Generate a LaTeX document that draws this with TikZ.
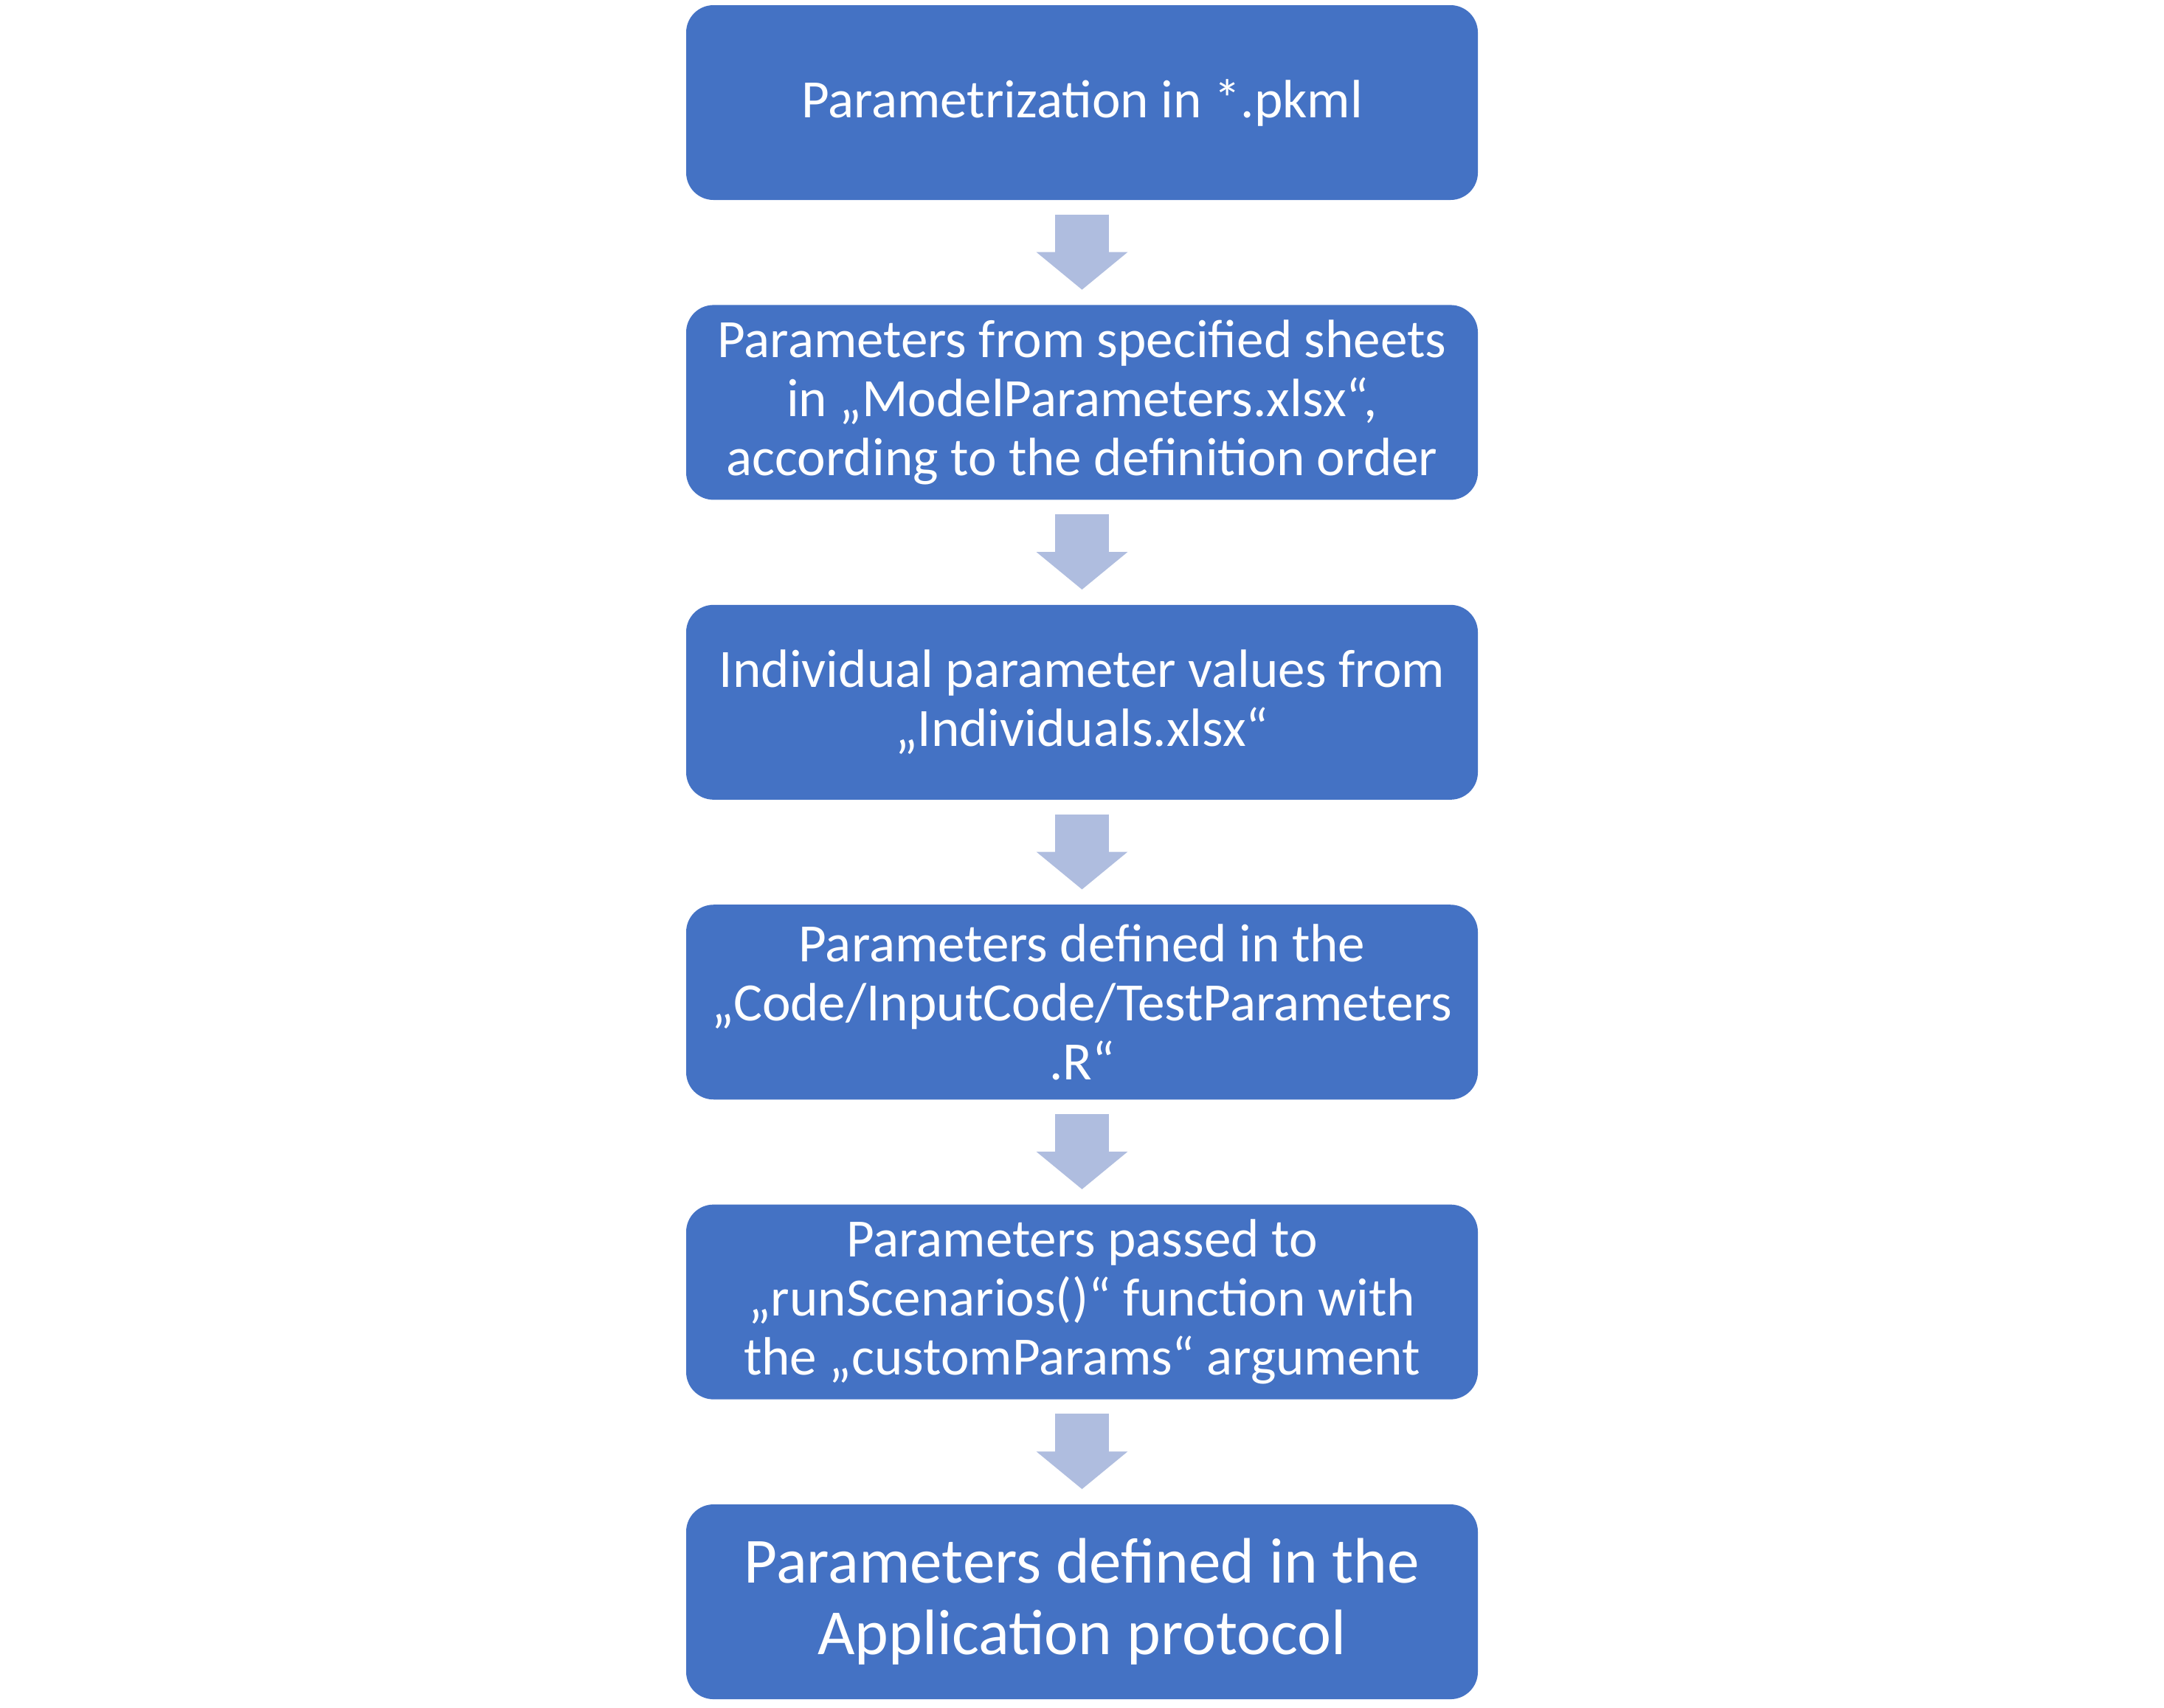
\documentclass[tikz,border=0pt]{standalone}
\usepackage{fontspec}
\setmainfont{Carlito}
\usetikzlibrary{positioning,arrows.meta}
\definecolor{boxblue}{HTML}{4472C4}
\definecolor{arrowblue}{HTML}{AFBDDF}
\tikzset{
  stepbox/.style={rectangle, rounded corners=0.37cm, fill=boxblue, text=white,
    minimum width=10.73cm, minimum height=2.64cm, inner sep=0pt, align=center,
    font=\fontsize{20.8}{22.8}\selectfont},
  flowarrow/.style={arrowblue, line width=0.73cm, shorten <=0.19cm, shorten >=0.2cm,
    -{Triangle[width=1.21cm, length=0.51cm]}}
}
\begin{document}
\begin{tikzpicture}[node distance=1.41cm]
  \useasboundingbox (0,0) rectangle (29.33,-23.14);
  % the six steps
  \node[stepbox] (pkml) at (14.665,-1.39) {Parametrization in *.pkml};
  \node[stepbox, below=of pkml] (sheets) {Parameters from specified sheets\\in „ModelParameters.xlsx“,\\according to the definition order};
  \node[stepbox, below=of sheets] (indiv) {Individual parameter values from\\„Individuals.xlsx“};
  \node[stepbox, below=of indiv] (testpar) {Parameters defined in the\\„Code/InputCode/TestParameters\\.R“};
  \node[stepbox, below=of testpar] (runscen) {Parameters passed to\\„runScenarios()“ function with\\the „customParams“ argument};
  \node[stepbox, below=of runscen, font=\fontsize{24.8}{27.6}\selectfont] (protocol) {Parameters defined in the\\Application protocol};
  % block arrows
  \foreach \a/\b in {pkml/sheets, sheets/indiv, indiv/testpar, testpar/runscen, runscen/protocol}
    \draw[flowarrow] (\a.south) -- (\b.north);
\end{tikzpicture}
\end{document}
